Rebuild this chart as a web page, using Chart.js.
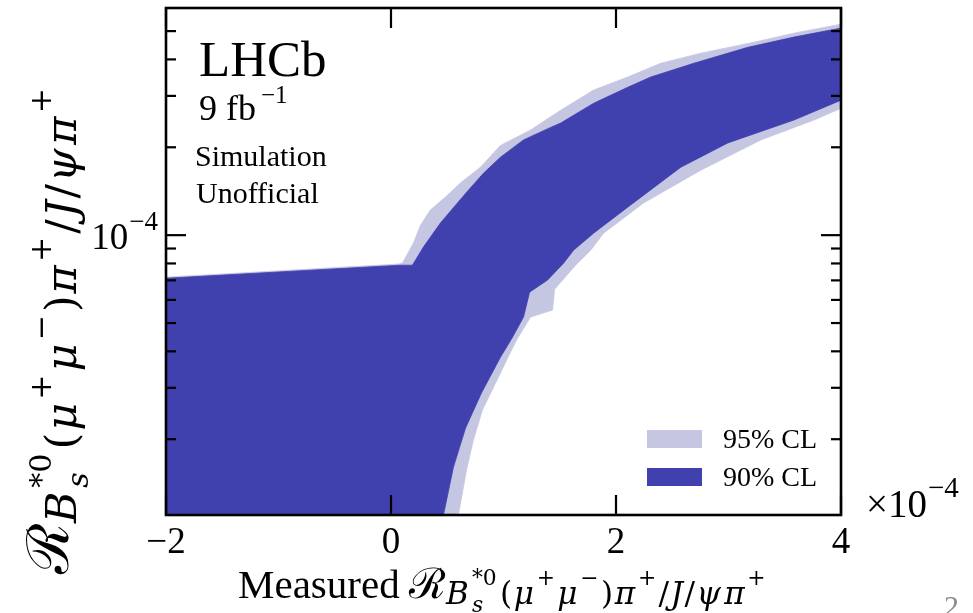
<!DOCTYPE html>
<html><head><meta charset="utf-8">
<script src="https://cdn.jsdelivr.net/npm/chart.js@4.4.0/dist/chart.umd.min.js"></script>
<style>html,body{margin:0;padding:0;background:#fff;overflow:hidden}canvas{display:block}</style>
</head><body>
<canvas id="c" width="973" height="613"></canvas>
<script>
// ---- data (x in units of 1e-4) ----
const xUpper90 = [-2.000, 0.083, 0.190, 0.288, 0.439, 0.680, 0.822, 0.973, 1.178, 1.419, 1.508, 1.801, 2.104, 2.309, 2.692, 3.172, 3.582, 4.000];
const yUpper90 = [7.12e-5, 7.89e-5, 7.89e-5, 9.10e-5, 1.10e-4, 1.415e-4, 1.63e-4, 1.85e-4, 2.12e-4, 2.34e-4, 2.42e-4, 2.83e-4, 3.21e-4, 3.48e-4, 3.88e-4, 4.40e-4, 4.77e-4, 5.12e-4];
const xLower90 = [0.466, 0.555, 0.662, 0.804, 0.973, 1.080, 1.178, 1.232, 1.392, 1.534, 1.623, 1.801, 2.104, 2.576, 2.994, 3.582, 4.000];
const yLower90 = [1.10e-5, 1.605e-5, 2.18e-5, 2.88e-5, 3.82e-5, 4.47e-5, 5.24e-5, 6.38e-5, 7.02e-5, 8.02e-5, 8.88e-5, 1.016e-4, 1.247e-4, 1.709e-4, 2.07e-4, 2.48e-4, 2.90e-4];
const xUpper95 = [-2.000, 0.065, 0.101, 0.199, 0.261, 0.350, 0.484, 0.617, 0.795, 0.973, 1.240, 1.508, 1.801, 2.104, 2.398, 2.754, 3.226, 3.582, 4.000];
const yUpper95 = [7.18e-5, 7.96e-5, 8.02e-5, 9.39e-5, 1.08e-4, 1.22e-4, 1.35e-4, 1.51e-4, 1.71e-4, 2.03e-4, 2.29e-4, 2.68e-4, 3.14e-4, 3.48e-4, 3.88e-4, 4.20e-4, 4.58e-4, 4.92e-4, 5.28e-4];
const xLower95 = [0.599, 0.671, 0.733, 0.813, 0.920, 1.027, 1.116, 1.240, 1.436, 1.454, 1.641, 1.775, 1.890, 2.246, 2.754, 3.288, 3.760, 4.000];
const yLower95 = [1.10e-5, 1.57e-5, 1.99e-5, 2.52e-5, 3.06e-5, 3.73e-5, 4.37e-5, 5.24e-5, 5.54e-5, 6.53e-5, 7.89e-5, 8.88e-5, 1.016e-4, 1.29e-4, 1.67e-4, 2.12e-4, 2.48e-4, 2.72e-4];
const FLOOR = 4e-6; // below the visible axis range
const xTickValues = [-2, 0, 2, 4];
const xTickLabels = ['\u22122', '0', '2', '4'];
const yMajorTicks = [1e-4];
const yMinorTicks = [2e-5, 3e-5, 4e-5, 5e-5, 6e-5, 7e-5, 8e-5, 9e-5, 2e-4, 3e-4, 4e-4, 5e-4];
const legendLabels = ['95% CL', '90% CL'];
const COL90 = '#4040ae';
const COL95 = '#c5c6e1';

function band(xu, yu, xl, yl) {
  const pts = xu.map((x, i) => ({x, y: yu[i]}));
  for (let i = xl.length - 1; i >= 0; i--) pts.push({x: xl[i], y: yl[i]});
  pts.push({x: xl[0] - 0.03, y: FLOOR});
  pts.push({x: xu[0], y: FLOOR});
  return pts;
}

const SERIF = "'Liberation Serif','DejaVu Serif',serif";
const MATHF = "'DejaVu Serif','Liberation Serif',serif";
function fnt(sz, it, fam) { return (it ? 'italic ' : '') + sz.toFixed(1) + 'px ' + (fam || SERIF); }

// math label segments (s: relative size, dy: relative baseline shift, down positive)
const SUB = 0.74, SUP = 0.52, DSUB = 0.14, DSUP = -0.3;
const mathSub = [
  {t: '\u211B', s: 1, dy: 0, fixed: 1},
  {t: 'B', s: SUB, dy: DSUB, it: 1},
  {t: 's', s: SUP, dy: DSUB + 0.2, it: 1, stack: 1},
  {t: '*0', s: SUP, dy: DSUP},
  {t: '(', s: SUB, dy: DSUB},
  {t: '\u03BC', s: SUB, dy: DSUB, it: 1},
  {t: '+', s: SUP, dy: DSUP},
  {t: '\u03BC', s: SUB, dy: DSUB, it: 1},
  {t: '\u2212', s: SUP, dy: DSUP},
  {t: ')', s: SUB, dy: DSUB},
  {t: '\u03C0', s: SUB, dy: DSUB, it: 1},
  {t: '+', s: SUP, dy: DSUP},
  {t: '/', s: SUB, dy: DSUB},
  {t: 'J', s: SUB, dy: DSUB, it: 1},
  {t: '/', s: SUB, dy: DSUB},
  {t: '\u03C8', s: SUB, dy: DSUB, it: 1},
  {t: '\u03C0', s: SUB, dy: DSUB, it: 1},
  {t: '+', s: SUP, dy: DSUP}
];

function layoutSegs(ctx, segs, M, k) {
  let x = 0, stackW = 0; const items = [];
  for (const g of segs) {
    ctx.font = fnt(g.s * M, g.it, g.fam || MATHF);
    const w = ctx.measureText(g.t).width * (g.fixed ? 1 : k);
    items.push({g, x});
    if (g.stack) { stackW = w; continue; }
    x += Math.max(w, stackW); stackW = 0;
  }
  return {items, width: x};
}
// draw segments with size M, spaced so the total length equals target
function drawMath(ctx, segs, M, target, x0, y0) {
  const w1 = layoutSegs(ctx, segs, M, 1).width;
  const wf = layoutSegs(ctx, segs.filter(g => g.fixed), M, 1).width;
  const k = Math.max(1, (target - wf) / (w1 - wf));
  const L = layoutSegs(ctx, segs, M, k);
  ctx.textAlign = 'left'; ctx.textBaseline = 'alphabetic';
  for (const it of L.items) {
    ctx.font = fnt(it.g.s * M, it.g.it, it.g.fam || MATHF);
    ctx.fillText(it.g.t, x0 + it.x, y0 + it.g.dy * M);
  }
}

const decor = {
  id: 'decor',
  afterDraw(chart) {
    const ctx = chart.ctx;
    const {left, right, top, bottom} = chart.chartArea;
    const xs = chart.scales.x, ys = chart.scales.y;
    ctx.save();
    ctx.strokeStyle = '#000'; ctx.lineCap = 'butt';
    function seg(x1, y1, x2, y2, w) { ctx.lineWidth = w; ctx.beginPath(); ctx.moveTo(x1, y1); ctx.lineTo(x2, y2); ctx.stroke(); }
    // ticks inward
    xTickValues.forEach(v => { const p = xs.getPixelForValue(v); seg(p, bottom, p, bottom - 20, 2.2); seg(p, top, p, top + 20, 2.2); });
    yMajorTicks.forEach(v => { const p = ys.getPixelForValue(v); seg(left, p, left + 20, p, 2.2); seg(right, p, right - 20, p, 2.2); });
    yMinorTicks.forEach(v => { const p = ys.getPixelForValue(v); seg(left, p, left + 10, p, 2.2); seg(right, p, right - 10, p, 2.2); });
    ctx.lineWidth = 2.6; ctx.strokeRect(left, top, right - left, bottom - top);

    ctx.fillStyle = '#000';
    // x tick labels
    ctx.font = fnt(37); ctx.textAlign = 'center'; ctx.textBaseline = 'alphabetic';
    xTickValues.forEach((v, i) => ctx.fillText(xTickLabels[i], xs.getPixelForValue(v), 553));
    // x offset text
    ctx.textAlign = 'left';
    ctx.font = fnt(39); ctx.fillText('\u00D710', 866, 517);
    let w = ctx.measureText('\u00D710').width;
    ctx.font = fnt(29); ctx.fillText('\u22124', 866 + w + 1, 497);
    // y tick label 10^-4
    ctx.font = fnt(27); const ws = ctx.measureText('\u22124').width;
    const yp = ys.getPixelForValue(1e-4);
    ctx.textAlign = 'right'; ctx.font = fnt(37); ctx.fillText('10', 158 - ws - 1, yp + 14);
    ctx.textAlign = 'left'; ctx.font = fnt(27); ctx.fillText('\u22124', 158 - ws, yp - 5);

    // LHCb block
    ctx.font = fnt(51); ctx.fillText('LHCb', 199, 76);
    ctx.font = fnt(36); ctx.fillText('9', 199, 120);
    ctx.fillText('fb', 226, 120);
    ctx.font = fnt(25); ctx.fillText('\u22121', 261, 103);
    ctx.font = fnt(30); ctx.fillText('Simulation', 195, 166); ctx.fillText('Unofficial', 196, 203);

    // legend
    ctx.fillStyle = COL95; ctx.fillRect(647, 430, 55, 18);
    ctx.fillStyle = COL90; ctx.fillRect(647, 468, 55, 18);
    ctx.fillStyle = '#000'; ctx.font = fnt(28);
    ctx.fillText(legendLabels[0], 723, 448); ctx.fillText(legendLabels[1], 723, 486);

    // x axis title
    ctx.font = fnt(41); ctx.fillText('Measured', 238, 598);
    drawMath(ctx, mathSub, 42, 768 - 409, 409, 598);
    // y axis title (rotated)
    ctx.save();
    ctx.translate(68, 574); ctx.rotate(-Math.PI / 2);
    drawMath(ctx, mathSub, 58, 489, 0, 0);
    ctx.restore();

    // page number
    ctx.fillStyle = '#8a8a8a'; ctx.font = fnt(30); ctx.fillText('2', 944, 616);
    ctx.restore();
  }
};

new Chart(document.getElementById('c'), {
  type: 'scatter',
  data: {
    datasets: [
      {label: legendLabels[1], data: band(xUpper90, yUpper90, xLower90, yLower90), showLine: true, fill: 'shape',
       backgroundColor: COL90, borderColor: COL90, borderWidth: 0.8, pointRadius: 0, tension: 0},
      {label: legendLabels[0], data: band(xUpper95, yUpper95, xLower95, yLower95), showLine: true, fill: 'shape',
       backgroundColor: COL95, borderColor: COL95, borderWidth: 0.8, pointRadius: 0, tension: 0}
    ]
  },
  options: {
    responsive: false, animation: false, devicePixelRatio: 1, events: [],
    layout: {padding: {left: 166, right: 132, top: 8, bottom: 98}},
    scales: {
      x: {type: 'linear', min: -2, max: 4, display: false},
      y: {type: 'logarithmic', min: 1.1e-5, max: 6e-4, display: false}
    },
    plugins: {legend: {display: false}, tooltip: {enabled: false}},
  },
  plugins: [decor]
});
</script>
</body></html>
